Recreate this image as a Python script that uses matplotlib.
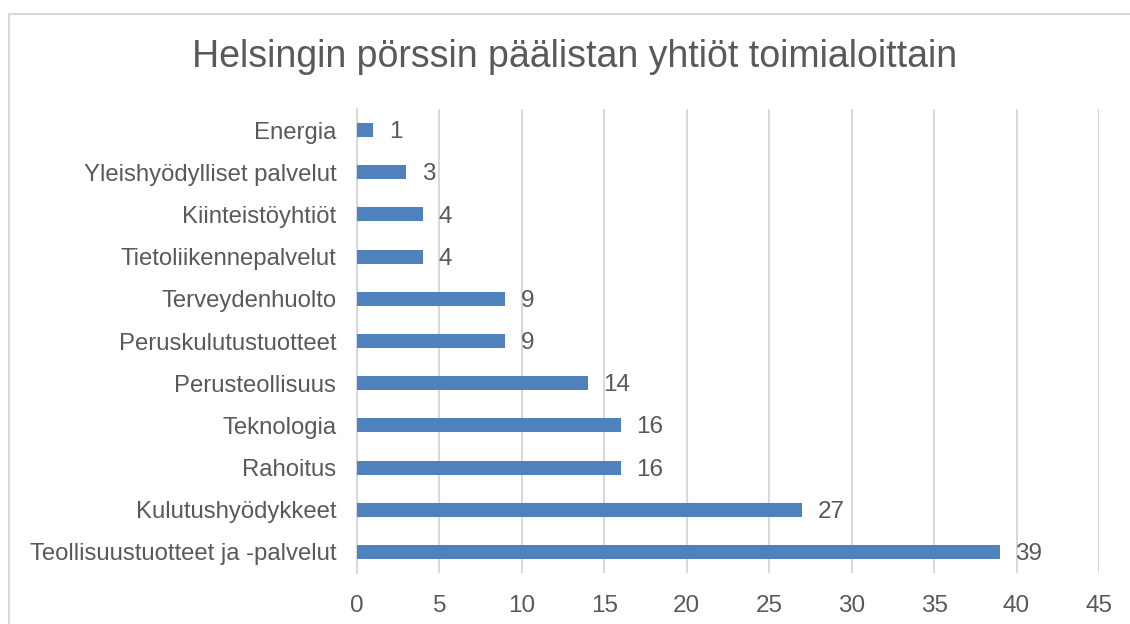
import matplotlib.pyplot as plt
from matplotlib.lines import Line2D

# data, bottom to top as drawn
categories = ['Teollisuustuotteet ja -palvelut', 'Kulutushyödykkeet', 'Rahoitus',
              'Teknologia', 'Perusteollisuus', 'Peruskulutustuotteet', 'Terveydenhuolto',
              'Tietoliikennepalvelut', 'Kiinteistöyhtiöt', 'Yleishyödylliset palvelut',
              'Energia']
counts = [39, 27, 16, 16, 14, 9, 9, 4, 4, 3, 1]
xticks = [0, 5, 10, 15, 20, 25, 30, 35, 40, 45]

text_col = '#595959'
grid_col = '#D9D9D9'
bar_col = '#4F81BD'

plt.rcParams['font.family'] = ['Liberation Sans', 'DejaVu Sans']

fig = plt.figure(figsize=(11.3, 6.24), dpi=100)
ax = fig.add_axes([357 / 1130, 51 / 624, 742 / 1130, 464 / 624])

bars = ax.barh(categories, counts, height=0.33, color=bar_col, zorder=3)
for rect, v in zip(bars, counts):
    ax.annotate(str(v), (rect.get_width(), rect.get_y() + rect.get_height() / 2),
                xytext=(11, -1.5), textcoords='offset points', ha='left', va='center',
                fontsize=17.5, color=text_col)

ax.set_xlim(0, 45)
ax.set_ylim(-0.5, len(categories) - 0.5)
ax.set_xticks(xticks)
ax.grid(axis='x', color=grid_col, linewidth=1.5, zorder=0)
ax.tick_params(axis='both', length=0, labelcolor=text_col)
ax.tick_params(axis='x', pad=16, labelsize=17.5)
ax.tick_params(axis='y', pad=15, labelsize=17.2)
for s in ['top', 'right', 'bottom']:
    ax.spines[s].set_visible(False)
ax.spines['left'].set_color(grid_col)
ax.spines['left'].set_linewidth(1.5)

fig.text(575 / 1130, 1 - 57 / 624, 'Helsingin pörssin päälistan yhtiöt toimialoittain',
         ha='center', va='center', fontsize=27, color=text_col)

# chart border (top and left edges visible)
top = 1 - 13.5 / 624
left = 8.5 / 1130
fig.add_artist(Line2D([left, 1], [top, top], transform=fig.transFigure, color=grid_col, linewidth=1.5))
fig.add_artist(Line2D([left, left], [0, top], transform=fig.transFigure, color=grid_col, linewidth=1.5))

fig.savefig('out.png', dpi=100)
